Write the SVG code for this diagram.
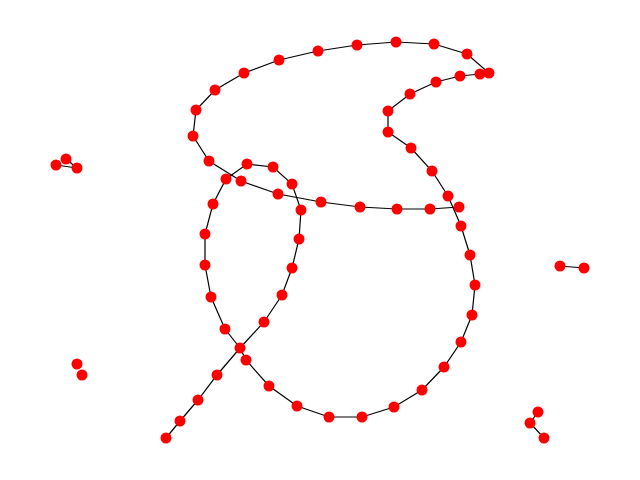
<svg xmlns="http://www.w3.org/2000/svg" width="640" height="480" viewBox="0 0 640 480">
<style>
.e{fill:none;stroke:#000;stroke-width:1.2}
.n circle{fill:#f00}
</style>
<rect width="640" height="480" fill="#fff"/>
<g id="edges" class="e">
<polyline points="193,136 196,110 215,90 244,73 279,60 318,51 357,45 396,42 434,44 467,54 489,73 480,74 460,76 436,82 410,94 388,111 388,132 411,148 432,171 448,196 461,226 470,255 475,285 472,315 461,342 444,367 422,390 394,407 362,417 329,417 297,406 269,386 246,360 240,348 225,329 211,297 205,265 205,234 213,204 226,179 247,164 273,167 292,184 301,210 299,239 292,268 282,295 264,322 240,348 217,375 198,400 180,421 166,438"/>
<polyline points="193,136 209,161 241,181 278,194 321,202 360,207 397,209 430,209 459,207"/>
<line x1="56" y1="165" x2="77" y2="168"/>
<line x1="66" y1="159" x2="77" y2="168"/>
<line x1="560" y1="266" x2="584" y2="268"/>
<polyline points="538,412 530,423 544,438"/>
</g>
<g id="nodes" class="n">
<g id="n1"><circle cx="193" cy="136" r="5.5"/></g>
<g id="n2"><circle cx="196" cy="110" r="5.5"/></g>
<g id="n3"><circle cx="215" cy="90" r="5.5"/></g>
<g id="n4"><circle cx="244" cy="73" r="5.5"/></g>
<g id="n5"><circle cx="279" cy="60" r="5.5"/></g>
<g id="n6"><circle cx="318" cy="51" r="5.5"/></g>
<g id="n7"><circle cx="357" cy="45" r="5.5"/></g>
<g id="n8"><circle cx="396" cy="42" r="5.5"/></g>
<g id="n9"><circle cx="434" cy="44" r="5.5"/></g>
<g id="n10"><circle cx="467" cy="54" r="5.5"/></g>
<g id="n11"><circle cx="489" cy="73" r="5.5"/></g>
<g id="n12"><circle cx="480" cy="74" r="5.5"/></g>
<g id="n13"><circle cx="460" cy="76" r="5.5"/></g>
<g id="n14"><circle cx="436" cy="82" r="5.5"/></g>
<g id="n15"><circle cx="410" cy="94" r="5.5"/></g>
<g id="n16"><circle cx="388" cy="111" r="5.5"/></g>
<g id="n17"><circle cx="388" cy="132" r="5.5"/></g>
<g id="n18"><circle cx="411" cy="148" r="5.5"/></g>
<g id="n19"><circle cx="432" cy="171" r="5.5"/></g>
<g id="n20"><circle cx="448" cy="196" r="5.5"/></g>
<g id="n21"><circle cx="461" cy="226" r="5.5"/></g>
<g id="n22"><circle cx="470" cy="255" r="5.5"/></g>
<g id="n23"><circle cx="475" cy="285" r="5.5"/></g>
<g id="n24"><circle cx="472" cy="315" r="5.5"/></g>
<g id="n25"><circle cx="461" cy="342" r="5.5"/></g>
<g id="n26"><circle cx="444" cy="367" r="5.5"/></g>
<g id="n27"><circle cx="422" cy="390" r="5.5"/></g>
<g id="n28"><circle cx="394" cy="407" r="5.5"/></g>
<g id="n29"><circle cx="362" cy="417" r="5.5"/></g>
<g id="n30"><circle cx="329" cy="417" r="5.5"/></g>
<g id="n31"><circle cx="297" cy="406" r="5.5"/></g>
<g id="n32"><circle cx="269" cy="386" r="5.5"/></g>
<g id="n33"><circle cx="246" cy="360" r="5.5"/></g>
<g id="n34"><circle cx="240" cy="348" r="5.5"/></g>
<g id="n35"><circle cx="225" cy="329" r="5.5"/></g>
<g id="n36"><circle cx="211" cy="297" r="5.5"/></g>
<g id="n37"><circle cx="205" cy="265" r="5.5"/></g>
<g id="n38"><circle cx="205" cy="234" r="5.5"/></g>
<g id="n39"><circle cx="213" cy="204" r="5.5"/></g>
<g id="n40"><circle cx="226" cy="179" r="5.5"/></g>
<g id="n41"><circle cx="247" cy="164" r="5.5"/></g>
<g id="n42"><circle cx="273" cy="167" r="5.5"/></g>
<g id="n43"><circle cx="292" cy="184" r="5.5"/></g>
<g id="n44"><circle cx="301" cy="210" r="5.5"/></g>
<g id="n45"><circle cx="299" cy="239" r="5.5"/></g>
<g id="n46"><circle cx="292" cy="268" r="5.5"/></g>
<g id="n47"><circle cx="282" cy="295" r="5.5"/></g>
<g id="n48"><circle cx="264" cy="322" r="5.5"/></g>
<g id="n49"><circle cx="217" cy="375" r="5.5"/></g>
<g id="n50"><circle cx="198" cy="400" r="5.5"/></g>
<g id="n51"><circle cx="180" cy="421" r="5.5"/></g>
<g id="n52"><circle cx="166" cy="438" r="5.5"/></g>
<g id="n53"><circle cx="209" cy="161" r="5.5"/></g>
<g id="n54"><circle cx="241" cy="181" r="5.5"/></g>
<g id="n55"><circle cx="278" cy="194" r="5.5"/></g>
<g id="n56"><circle cx="321" cy="202" r="5.5"/></g>
<g id="n57"><circle cx="360" cy="207" r="5.5"/></g>
<g id="n58"><circle cx="397" cy="209" r="5.5"/></g>
<g id="n59"><circle cx="430" cy="209" r="5.5"/></g>
<g id="n60"><circle cx="459" cy="207" r="5.5"/></g>
<g id="n61"><circle cx="56" cy="165" r="5.5"/></g>
<g id="n62"><circle cx="66" cy="159" r="5.5"/></g>
<g id="n63"><circle cx="77" cy="168" r="5.5"/></g>
<g id="n64"><circle cx="77" cy="364" r="5.5"/></g>
<g id="n65"><circle cx="82" cy="375" r="5.5"/></g>
<g id="n66"><circle cx="560" cy="266" r="5.5"/></g>
<g id="n67"><circle cx="584" cy="268" r="5.5"/></g>
<g id="n68"><circle cx="538" cy="412" r="5.5"/></g>
<g id="n69"><circle cx="530" cy="423" r="5.5"/></g>
<g id="n70"><circle cx="544" cy="438" r="5.5"/></g>
</g>
</svg>
